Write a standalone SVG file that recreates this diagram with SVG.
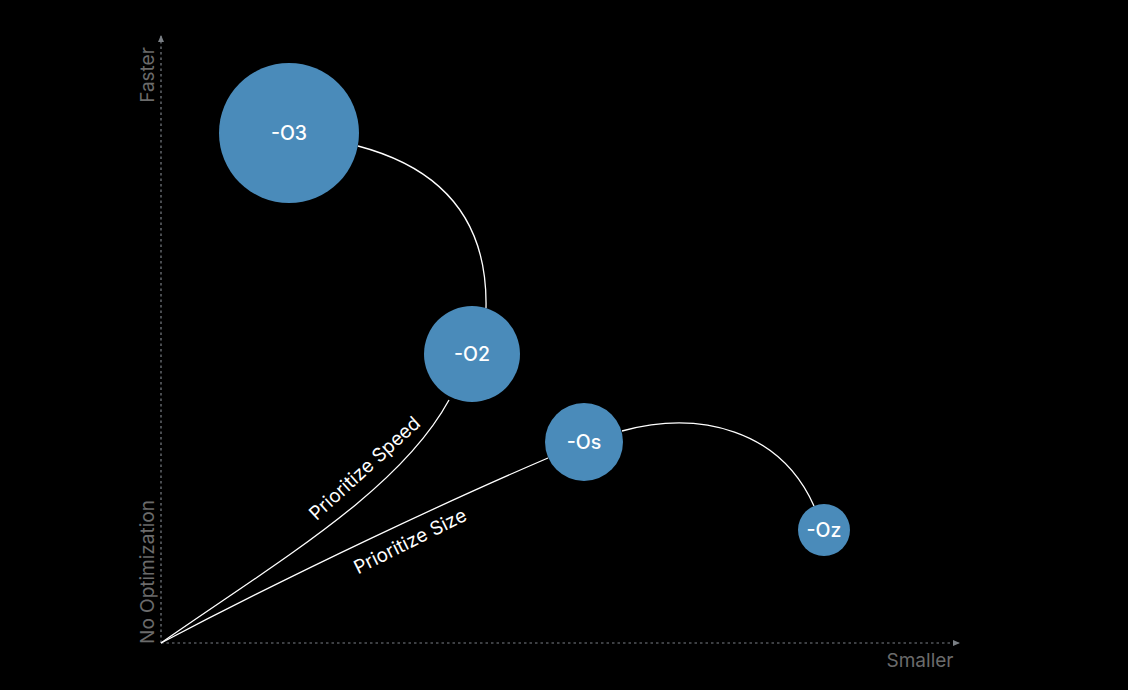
<svg xmlns="http://www.w3.org/2000/svg" width="1128" height="690" viewBox="0 0 1128 690">
<style>
.axis{stroke:#7a7f85;stroke-width:1.2;stroke-dasharray:2.5 3;fill:none}
.axlbl{fill:#6b6b6b;font-family:Inter,"Open Sans","Liberation Sans",sans-serif;font-size:19px}
.conn{stroke:#ffffff;stroke-width:1.3;fill:none}
.node circle{fill:#4a8bba}
.node text{fill:#ffffff;font-family:Inter,"Open Sans","Liberation Sans",sans-serif;font-size:19.5px;font-weight:500;text-anchor:middle;dominant-baseline:central}
.clbl{fill:#ffffff;font-family:Inter,"Open Sans","Liberation Sans",sans-serif;font-size:19px;text-anchor:middle}
</style>
<defs>
<marker id="ah" markerWidth="8" markerHeight="8" refX="6" refY="4" orient="auto" markerUnits="userSpaceOnUse">
<path d="M0,1 L7,4 L0,7 Z" fill="#7a7f85"/>
</marker>
</defs>
<rect width="1128" height="690" fill="#000000"/>
<g id="axes">
<line class="axis" x1="161" y1="643" x2="161" y2="36" marker-end="url(#ah)"/>
<line class="axis" x1="161" y1="643" x2="959" y2="643" marker-end="url(#ah)"/>
<text class="axlbl" transform="translate(154,75) rotate(-90)" text-anchor="middle">Faster</text>
<text class="axlbl" transform="translate(154,572) rotate(-90)" text-anchor="middle">No Optimization</text>
<text class="axlbl" x="920" y="667" text-anchor="middle">Smaller</text>
</g>
<g id="connectors">
<path class="conn" d="M358,146 C430,165 488,210 486,308"/>
<path class="conn" d="M161,643 C280,560 400,490 449,400"/>
<path class="conn" d="M161,643 C300,570 450,500 548,458"/>
<path class="conn" d="M622,431 C700,410 780,430 814,506"/>
<text class="clbl" transform="translate(369,473) rotate(-42.5)">Prioritize Speed</text>
<text class="clbl" transform="translate(413,547) rotate(-26.5)">Prioritize Size</text>
</g>
<g id="node-O3" class="node"><circle cx="289" cy="133" r="70"/><text x="289" y="133">-O3</text></g>
<g id="node-O2" class="node"><circle cx="472" cy="354" r="48"/><text x="472" y="354">-O2</text></g>
<g id="node-Os" class="node"><circle cx="584" cy="442" r="39"/><text x="584" y="442">-Os</text></g>
<g id="node-Oz" class="node"><circle cx="824" cy="530" r="26"/><text x="824" y="530">-Oz</text></g>
</svg>
